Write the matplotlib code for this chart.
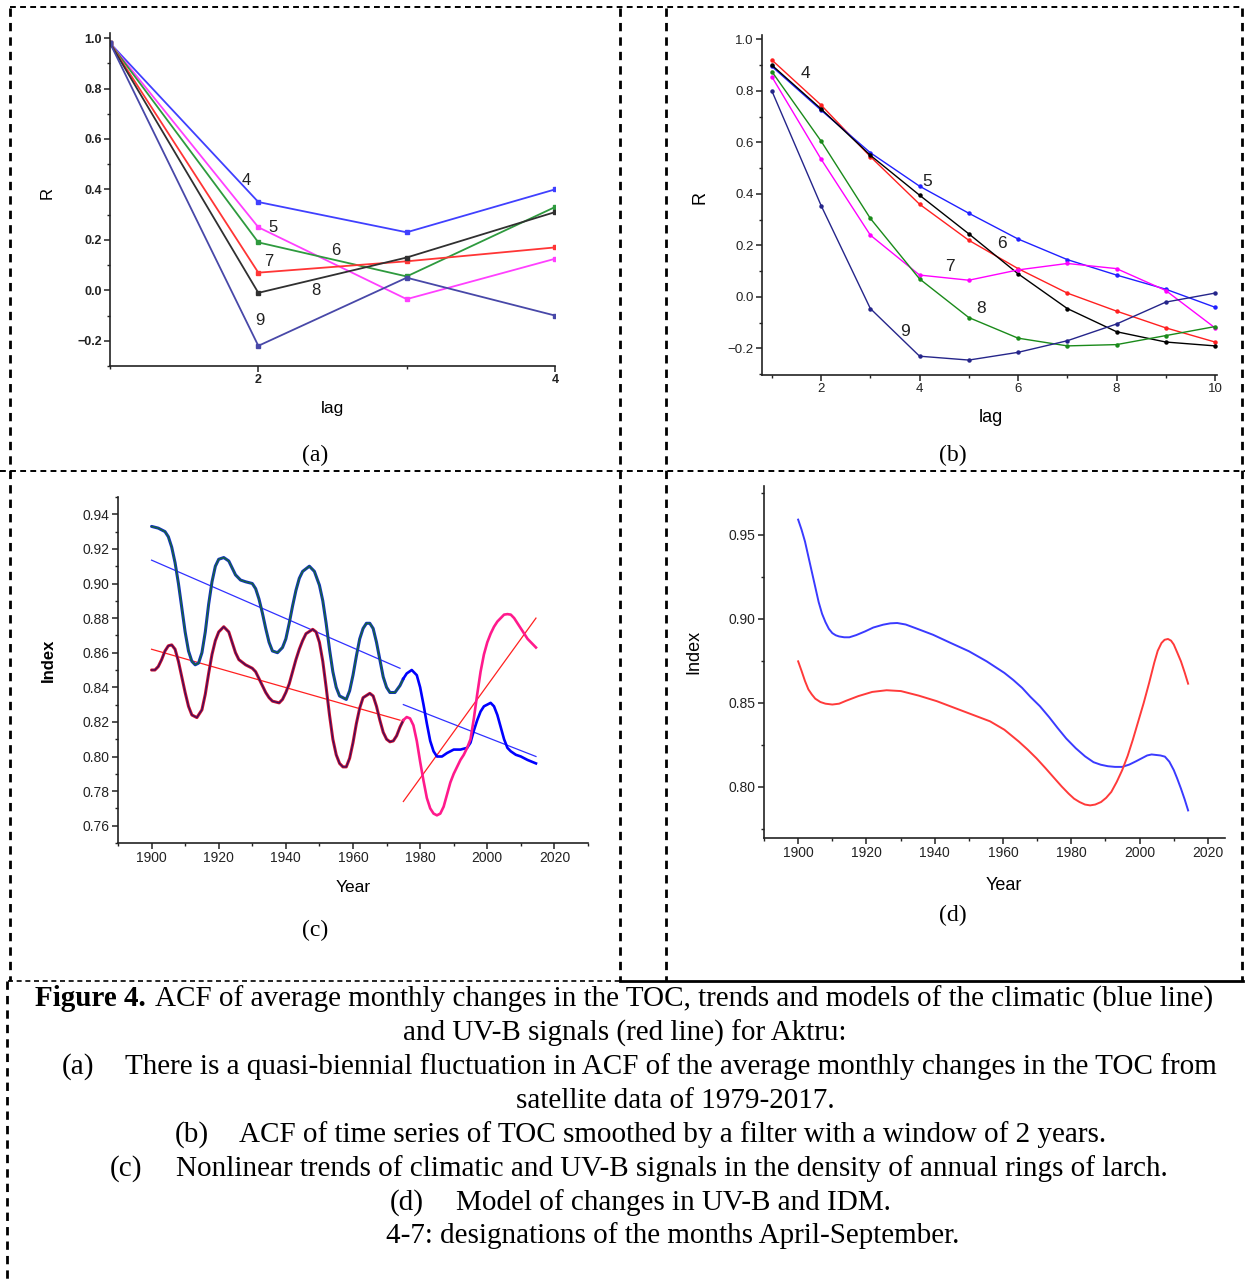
import numpy as np
import matplotlib
matplotlib.use("Agg")
import matplotlib.pyplot as plt
from matplotlib.lines import Line2D
from matplotlib.ticker import MultipleLocator, FixedLocator

W, H = 1245, 1282

# --- (a) ACF of monthly TOC changes, lags 1..4 ---
lags_a = [1, 2, 3, 4]
acf_a_4 = [0.98, 0.35, 0.23, 0.40]
acf_a_5 = [0.98, 0.25, -0.035, 0.125]
acf_a_6 = [0.98, 0.19, 0.055, 0.33]
acf_a_7 = [0.98, 0.07, 0.115, 0.17]
acf_a_8 = [0.98, -0.01, 0.13, 0.31]
acf_a_9 = [0.98, -0.22, 0.05, -0.10]

# --- (b) ACF of smoothed TOC, lags 1..10 ---
lags_b = [1, 2, 3, 4, 5, 6, 7, 8, 9, 10]
acf_b_4 = [0.92, 0.745, 0.545, 0.36, 0.22, 0.11, 0.015, -0.055, -0.12, -0.175]
acf_b_5 = [0.895, 0.725, 0.56, 0.43, 0.325, 0.225, 0.145, 0.085, 0.03, -0.04]
acf_b_6 = [0.90, 0.73, 0.55, 0.395, 0.245, 0.09, -0.045, -0.135, -0.175, -0.19]
acf_b_7 = [0.855, 0.535, 0.24, 0.085, 0.065, 0.105, 0.13, 0.11, 0.025, -0.12]
acf_b_8 = [0.875, 0.605, 0.305, 0.07, -0.08, -0.16, -0.19, -0.185, -0.15, -0.115]
acf_b_9 = [0.80, 0.355, -0.045, -0.23, -0.245, -0.215, -0.17, -0.105, -0.02, 0.015]

# --- (c) climatic (blue) and UV-B (red) signals ---
years_c_blue = [1900, 1902, 1904, 1905, 1906, 1907, 1908, 1909, 1910, 1911, 1912, 1913, 1914, 1915,
                1916, 1917, 1918, 1919, 1920, 1921.5, 1923, 1924, 1925, 1926.5, 1928, 1930, 1931,
                1932, 1933, 1934, 1935, 1936, 1937.5, 1939, 1940, 1941, 1942, 1943, 1944, 1945,
                1947, 1948.5, 1950, 1951, 1952, 1953, 1954, 1955, 1956, 1958, 1959, 1960, 1961,
                1962, 1963, 1964, 1965, 1966, 1967, 1968, 1969, 1970, 1971, 1972.5, 1974, 1975,
                1976, 1977.5, 1979, 1980, 1981, 1982, 1983, 1984, 1985, 1986.5, 1988, 1990, 1992,
                1994, 1995, 1996, 1997, 1998, 1999, 2001, 2002, 2003, 2004, 2005, 2006, 2007,
                2008.5, 2010, 2012, 2014.5]
index_c_blue = [0.933, 0.932, 0.930, 0.927, 0.921, 0.912, 0.900, 0.886, 0.872, 0.861, 0.855, 0.853,
                0.854, 0.860, 0.872, 0.888, 0.901, 0.910, 0.914, 0.915, 0.913, 0.909, 0.905, 0.902,
                0.901, 0.900, 0.897, 0.891, 0.883, 0.874, 0.866, 0.861, 0.860, 0.863, 0.868, 0.877,
                0.887, 0.896, 0.903, 0.907, 0.910, 0.907, 0.899, 0.890, 0.877, 0.862, 0.849, 0.840,
                0.835, 0.833, 0.838, 0.847, 0.858, 0.868, 0.874, 0.877, 0.877, 0.874, 0.866, 0.856,
                0.846, 0.840, 0.837, 0.837, 0.841, 0.845, 0.848, 0.850, 0.847, 0.840, 0.830, 0.819,
                0.809, 0.803, 0.800, 0.800, 0.802, 0.804, 0.804, 0.805, 0.808, 0.815, 0.821, 0.826,
                0.829, 0.831, 0.829, 0.824, 0.817, 0.810, 0.805, 0.803, 0.801, 0.800, 0.798, 0.796]

years_c_red = [1900, 1901, 1902, 1903, 1904, 1905, 1906, 1907, 1908, 1909, 1910, 1911, 1912, 1913.5,
               1915, 1916, 1917, 1918, 1919, 1920, 1921.5, 1923, 1924, 1925, 1926, 1928, 1930, 1931,
               1932, 1933, 1934, 1935, 1936, 1938, 1939, 1940, 1941, 1942, 1943, 1944, 1945, 1946,
               1948, 1949, 1950, 1951, 1952, 1953, 1954, 1955, 1956, 1957, 1958, 1959, 1960, 1961,
               1962, 1963, 1965, 1966, 1967, 1968, 1969, 1970, 1971, 1972, 1973, 1974, 1975, 1976,
               1977, 1978, 1979, 1980, 1981, 1982, 1983, 1984, 1985, 1986, 1987, 1988, 1989, 1990,
               1991, 1992, 1993, 1994, 1995, 1996, 1997, 1998, 1999, 2000, 2001, 2002, 2003, 2004,
               2005, 2006, 2007, 2008, 2009, 2010, 2011, 2012, 2013, 2014.5]
index_c_red = [0.850, 0.850, 0.852, 0.856, 0.861, 0.864, 0.8645, 0.862, 0.855, 0.846, 0.837, 0.829,
               0.824, 0.8225, 0.827, 0.836, 0.848, 0.859, 0.867, 0.872, 0.875, 0.872, 0.866, 0.860,
               0.856, 0.853, 0.851, 0.849, 0.845, 0.841, 0.837, 0.834, 0.832, 0.831, 0.833, 0.837,
               0.842, 0.849, 0.856, 0.862, 0.867, 0.871, 0.8735, 0.872, 0.866, 0.855, 0.840, 0.824,
               0.810, 0.801, 0.796, 0.794, 0.794, 0.799, 0.808, 0.819, 0.828, 0.834, 0.8365, 0.835,
               0.829, 0.821, 0.814, 0.810, 0.8085, 0.809, 0.812, 0.817, 0.821, 0.8228, 0.822, 0.818,
               0.809, 0.797, 0.786, 0.776, 0.770, 0.767, 0.766, 0.767, 0.771, 0.778, 0.785, 0.790,
               0.794, 0.798, 0.801, 0.805, 0.810, 0.822, 0.836, 0.849, 0.859, 0.866, 0.871, 0.875,
               0.878, 0.880, 0.882, 0.8823, 0.882, 0.880, 0.877, 0.874, 0.871, 0.868, 0.866, 0.863]

# linear trends (endpoints)
trend_years_early = [1900, 1974]
trend_blue_early = [0.9135, 0.851]
trend_red_early = [0.862, 0.821]
trend_years_late = [1975, 2014.5]
trend_blue_late = [0.830, 0.800]
trend_red_late = [0.774, 0.880]
split_year = 1975

# --- (d) models of UV-B and IDM ---
years_d_blue = [1900, 1901, 1902, 1903, 1904, 1905, 1906, 1907, 1908, 1909, 1910, 1911, 1912,
                1913.5, 1915, 1917, 1919.6, 1922, 1924.9, 1927, 1929, 1931.5, 1934.3, 1939.5,
                1944.7, 1950, 1955.2, 1960.4, 1963, 1965.6, 1968, 1970.8, 1973.5, 1976, 1978.5,
                1981.3, 1984, 1986.5, 1988.6, 1990.7, 1992.8, 1994.9, 1997, 1999, 2000.6, 2002.2,
                2003.5, 2004.8, 2006.1, 2007.4, 2008.7, 2010, 2011, 2012.1, 2013.2, 2014.2]
index_d_blue = [0.959, 0.953, 0.946, 0.937, 0.928, 0.919, 0.910, 0.903, 0.898, 0.894, 0.8915,
                0.8902, 0.8895, 0.889, 0.889, 0.8903, 0.8925, 0.8948, 0.8965, 0.8973, 0.8975,
                0.8966, 0.8945, 0.8905, 0.8856, 0.8807, 0.8747, 0.8678, 0.8636, 0.8589, 0.8536,
                0.848, 0.8415, 0.835, 0.8288, 0.823, 0.8182, 0.8147, 0.8132, 0.8123, 0.8119,
                0.8119, 0.8133, 0.8153, 0.817, 0.8187, 0.8193, 0.819, 0.8187, 0.818, 0.815, 0.810,
                0.805, 0.799, 0.7925, 0.786]
years_d_red = [1900, 1901, 1902, 1903, 1904, 1905, 1906.5, 1908, 1910, 1912, 1914, 1917.6, 1921.7,
               1925.9, 1930.1, 1935.3, 1940.6, 1945.8, 1951, 1956.2, 1960.4, 1964.6, 1967.2, 1969.8,
               1972.5, 1975.1, 1977.2, 1979.2, 1980.8, 1982.4, 1984, 1985.5, 1987, 1988.7, 1990.2,
               1991.7, 1993.3, 1994.9, 1996.5, 1998, 1999.6, 2001.2, 2002.8, 2004.3, 2005.3, 2006.4,
               2007.3, 2008.3, 2009.2, 2010, 2011, 2012.1, 2013.2, 2014.2]
index_d_red = [0.8747, 0.869, 0.863, 0.858, 0.855, 0.8525, 0.8505, 0.8495, 0.849, 0.8495, 0.8512,
               0.854, 0.8565, 0.8575, 0.857, 0.8543, 0.851, 0.847, 0.843, 0.839, 0.834, 0.827,
               0.8222, 0.817, 0.811, 0.805, 0.8002, 0.796, 0.793, 0.791, 0.7895, 0.789, 0.7895,
               0.791, 0.7935, 0.797, 0.803, 0.810, 0.8185, 0.828, 0.839, 0.850, 0.862, 0.874, 0.881,
               0.8856, 0.8875, 0.888, 0.887, 0.8847, 0.880, 0.8747, 0.868, 0.8614]

plt.rcParams['font.family'] = ['Liberation Sans', 'DejaVu Sans']
SERIF = ['Liberation Serif', 'DejaVu Serif']


def px_axes(fig, x0, y0, x1, y1):
    return fig.add_axes([x0 / W, 1 - y1 / H, (x1 - x0) / W, (y1 - y0) / H])


def ftext(fig, px, py, s, **kw):
    return fig.text(px / W, 1 - py / H, s, **kw)


def style_axes(ax, labelsize=9, weight='normal'):
    for s in ['top', 'right']:
        ax.spines[s].set_visible(False)
    for s in ['left', 'bottom']:
        ax.spines[s].set_linewidth(1.2)
        ax.spines[s].set_color('#222222')
    ax.tick_params(which='major', direction='out', length=4, width=1.1,
                   labelsize=labelsize, colors='#222222', pad=2)
    ax.tick_params(which='minor', direction='out', length=2.5, width=1, colors='#222222')
    for lab in ax.get_xticklabels() + ax.get_yticklabels():
        lab.set_fontweight(weight)
    ax.patch.set_alpha(0)


fig = plt.figure(figsize=(W / 100, H / 100), dpi=100)

# ---------- (a) ----------
ax = px_axes(fig, 110, 33, 555, 366)
series_a = [(acf_a_4, '#4040ff'), (acf_a_5, '#ff40ff'), (acf_a_6, '#2e9a3e'),
            (acf_a_7, '#ff3535'), (acf_a_8, '#303030'), (acf_a_9, '#4848a8')]
for vals, col in series_a:
    ax.plot(lags_a, vals, color=col, lw=1.3, marker='s', ms=2.2)
ax.set_xlim(1, 4)
ax.set_ylim(-0.3, 1.02)
ax.xaxis.set_major_locator(FixedLocator([2, 4]))
ax.xaxis.set_minor_locator(FixedLocator([1, 3]))
ax.yaxis.set_major_locator(FixedLocator([-0.2, 0.0, 0.2, 0.4, 0.6, 0.8, 1.0]))
ax.yaxis.set_minor_locator(MultipleLocator(0.1))
style_axes(ax, labelsize=9, weight='bold')
for s, x, y in [('4', 1.92, 0.436), ('5', 2.10, 0.25), ('6', 2.52, 0.158),
                ('7', 2.07, 0.115), ('8', 2.39, 0.0), ('9', 2.01, -0.119)]:
    ax.text(x, y, s, fontsize=12, ha='center', va='center', color='#222222')
ftext(fig, 47, 193, 'R', fontsize=12, rotation=90, ha='center', va='center')
ftext(fig, 333, 409, 'lag', fontsize=12.5, ha='center', va='center')
ftext(fig, 315, 455, '(a)', fontsize=17, ha='center', va='center', family=SERIF)

# ---------- (b) ----------
ax = px_axes(fig, 762, 35, 1217, 375)
series_b = [(acf_b_4, '#ff2020'), (acf_b_5, '#2020ff'), (acf_b_6, '#000000'),
            (acf_b_7, '#ff00ff'), (acf_b_8, '#1a8a1a'), (acf_b_9, '#25258a')]
for vals, col in series_b:
    ax.plot(lags_b, vals, color=col, lw=1.0, marker='o', ms=2.2)
ax.set_xlim(0.8, 10.04)
ax.set_ylim(-0.303, 1.017)
ax.xaxis.set_major_locator(FixedLocator([2, 4, 6, 8, 10]))
ax.xaxis.set_minor_locator(FixedLocator([1, 3, 5, 7, 9]))
ax.yaxis.set_major_locator(FixedLocator([-0.2, 0.0, 0.2, 0.4, 0.6, 0.8, 1.0]))
ax.yaxis.set_minor_locator(MultipleLocator(0.1))
style_axes(ax, labelsize=9.5)
for s, x, y in [('4', 1.69, 0.866), ('5', 4.16, 0.45), ('6', 5.67, 0.206),
                ('7', 4.61, 0.12), ('8', 5.24, -0.043), ('9', 3.70, -0.136)]:
    ax.text(x, y, s, fontsize=12.5, ha='center', va='center', color='#222222')
ftext(fig, 700, 198, 'R', fontsize=13, rotation=90, ha='center', va='center')
ftext(fig, 991, 418, 'lag', fontsize=13, ha='center', va='center')
ftext(fig, 953, 455, '(b)', fontsize=17, ha='center', va='center', family=SERIF)

# ---------- (c) ----------
ax = px_axes(fig, 118, 497, 588, 843)
yb = np.array(years_c_blue)
vb = np.array(index_c_blue)
yr = np.array(years_c_red)
vr = np.array(index_c_red)
eb, lb = yb <= split_year, yb >= split_year
er, lr = yr <= split_year, yr >= split_year
ax.plot(trend_years_early, trend_blue_early, color='#3030ff', lw=0.9)
ax.plot(trend_years_early, trend_red_early, color='#ff2020', lw=0.9)
ax.plot(trend_years_late, trend_blue_late, color='#3030ff', lw=0.9)
ax.plot(trend_years_late, trend_red_late, color='#ff2020', lw=0.9)
ax.plot(yb[eb], vb[eb], color='#1030c0', lw=2.2, solid_capstyle='round')
ax.plot(yb[eb], vb[eb], color='#1a6a30', lw=0.9)
ax.plot(yb[lb], vb[lb], color='#0000ff', lw=1.9)
ax.plot(yr[er], vr[er], color='#d01030', lw=2.2, solid_capstyle='round')
ax.plot(yr[er], vr[er], color='#3a1060', lw=0.9)
ax.plot(yr[lr], vr[lr], color='#ff1a8c', lw=1.9)
ax.set_xlim(1890, 2030)
ax.set_ylim(0.75, 0.95)
ax.xaxis.set_major_locator(MultipleLocator(20))
ax.xaxis.set_minor_locator(MultipleLocator(10))
ax.yaxis.set_major_locator(FixedLocator([0.76, 0.78, 0.80, 0.82, 0.84, 0.86, 0.88, 0.90, 0.92, 0.94]))
ax.yaxis.set_minor_locator(MultipleLocator(0.01))
ax.xaxis.set_major_formatter(plt.FuncFormatter(lambda v, p: f"{v:.0f}"))
ax.yaxis.set_major_formatter(plt.FuncFormatter(lambda v, p: f"{v:.2f}"))
style_axes(ax, labelsize=10)
ftext(fig, 48, 660, 'Index', fontsize=12, rotation=90, ha='center', va='center', weight='bold')
ftext(fig, 353, 888, 'Year', fontsize=12.5, ha='center', va='center')
ftext(fig, 315, 930, '(c)', fontsize=17, ha='center', va='center', family=SERIF)

# ---------- (d) ----------
ax = px_axes(fig, 764, 486, 1225, 838)
ax.plot(years_d_blue, index_d_blue, color='#3a3aff', lw=1.4)
ax.plot(years_d_red, index_d_red, color='#ff3a3a', lw=1.4)
ax.set_xlim(1890, 2025)
ax.set_ylim(0.7696, 0.979)
ax.xaxis.set_major_locator(MultipleLocator(20))
ax.xaxis.set_minor_locator(MultipleLocator(10))
ax.yaxis.set_major_locator(FixedLocator([0.80, 0.85, 0.90, 0.95]))
ax.yaxis.set_minor_locator(MultipleLocator(0.025))
ax.xaxis.set_major_formatter(plt.FuncFormatter(lambda v, p: f"{v:.0f}"))
ax.yaxis.set_major_formatter(plt.FuncFormatter(lambda v, p: f"{v:.2f}"))
style_axes(ax, labelsize=10)
ftext(fig, 694, 652, 'Index', fontsize=13, rotation=90, ha='center', va='center')
ftext(fig, 1004, 885, 'Year', fontsize=13, ha='center', va='center')
ftext(fig, 953, 915, '(d)', fontsize=17, ha='center', va='center', family=SERIF)

# ---------- dashed frame ----------
def frame_line(xs, ys, lw=1.5, ls=(0, (3, 2.2))):
    fig.add_artist(Line2D([x / W for x in xs], [1 - y / H for y in ys],
                          color='black', lw=lw, linestyle=ls))

frame_line([10, 1243], [7, 7], lw=1.4)
frame_line([0, 1245], [471, 471], lw=1.4)
frame_line([8, 620], [981, 981], lw=1.2)
frame_line([620, 1243], [981, 981], lw=2.0, ls='-')
for x in [10, 620, 666, 1242]:
    frame_line([x, x], [8, 981], lw=2.0)
frame_line([7, 7], [981, 1282], lw=2.0)

# ---------- caption ----------
cap = dict(fontsize=21, va='center', ha='left', family=SERIF)
ftext(fig, 35, 999, 'Figure 4.', weight='bold', **cap)
ftext(fig, 155, 999, 'ACF of average monthly changes in the TOC, trends and models of the climatic (blue line)', **cap)
ftext(fig, 403, 1033, 'and UV-B signals (red line) for Aktru:', **cap)
ftext(fig, 62, 1067, '(a)', **cap)
ftext(fig, 125, 1067, 'There is a quasi-biennial fluctuation in ACF of the average monthly changes in the TOC from', **cap)
ftext(fig, 516, 1101, 'satellite data of 1979-2017.', **cap)
ftext(fig, 175, 1135, '(b)', **cap)
ftext(fig, 239, 1135, 'ACF of time series of TOC smoothed by a filter with a window of 2 years.', **cap)
ftext(fig, 110, 1169, '(c)', **cap)
ftext(fig, 176, 1169, 'Nonlinear trends of climatic and UV-B signals in the density of annual rings of larch.', **cap)
ftext(fig, 390, 1203, '(d)', **cap)
ftext(fig, 456, 1203, 'Model of changes in UV-B and IDM.', **cap)
ftext(fig, 386, 1236, '4-7: designations of the months April-September.', **cap)

fig.savefig('out.png', dpi=100)
